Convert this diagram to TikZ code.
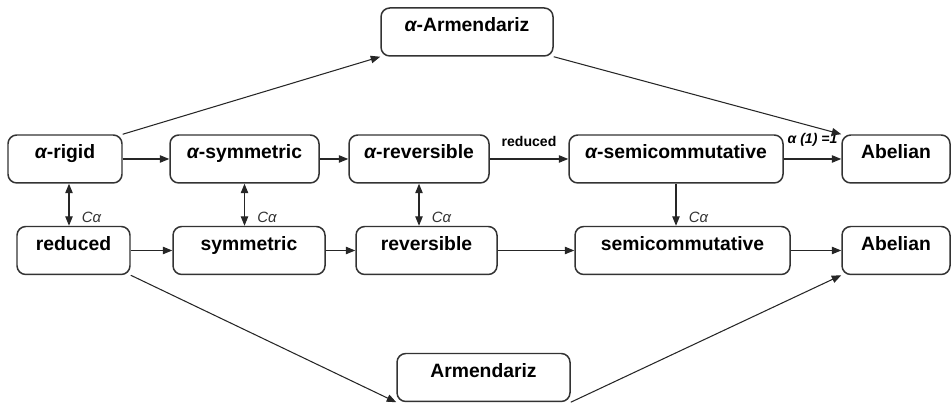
\documentclass[tikz,border=0pt]{standalone}
\usepackage{fontspec}
\setmainfont{Liberation Sans}
\usetikzlibrary{arrows.meta}
\tikzset{
	caja/.style={draw=black!80, line width=0.85pt, rounded corners=5pt, inner xsep=0pt, inner ysep=0pt, text height=0.48cm, text depth=0.48cm, font=\fontsize{11}{13}\selectfont\bfseries},
	ancho/.style={minimum width=#1*0.02cm},
	flecha/.style={draw=black!85, line width=0.6pt},
	etiq/.style={inner sep=1pt, font=\fontsize{8}{9}\selectfont\bfseries},
	ca/.style={inner sep=1pt, font=\fontsize{8.5}{10}\selectfont\itshape, text=black!80}
}
\begin{document}
\begin{tikzpicture}[x=0.02cm, y=-0.02cm, >={Triangle[length=1.9mm,width=1.5mm]}]
	% Marco
		\useasboundingbox (0,0) rectangle (952,404);
	
	% Cajas alfa
		\node[caja, ancho=172] (aarm) at (467,32) {{\itshape α}-Armendariz};
		\node[caja, ancho=114] (arig) at (65,159) {{\itshape α}-rigid};
		\node[caja, ancho=149] (asim) at (244.5,159) {{\itshape α}-symmetric};
		\node[caja, ancho=140] (arev) at (419,159) {{\itshape α}-reversible};
		\node[caja, ancho=214] (asemi) at (676,159) {{\itshape α}-semicommutative};
		\node[caja, ancho=108] (abel) at (896,159) {Abelian};
	
	% Cajas de abajo
		\node[caja, ancho=113] (red) at (73.5,250.5) {reduced};
		\node[caja, ancho=152] (sim) at (249,250.5) {symmetric};
		\node[caja, ancho=141] (rev) at (426.5,250.5) {reversible};
		\node[caja, ancho=215] (semi) at (682.5,250.5) {semicommutative};
		\node[caja, ancho=108] (bel) at (896,250.5) {Abelian};
		\node[caja, ancho=173] (arm) at (483.5,377.5) {Armendariz};
	
	% Flechas horizontales
		\draw[flecha, ->] (arig) -- (asim);
		\draw[flecha, ->] (asim) -- (arev);
		\draw[flecha, ->] (arev) -- node[etiq, above=6pt] {reduced} (asemi);
		\draw[flecha, ->] (asemi) -- node[etiq, above=6pt, font=\fontsize{8}{9}\selectfont\bfseries\itshape] {α (1) =1} (abel);
		\draw[flecha, ->] (red) -- (sim);
		\draw[flecha, ->] (sim) -- (rev);
		\draw[flecha, ->] (rev) -- (semi);
		\draw[flecha, ->] (semi) -- (bel);
	
	% Flechas verticales
		\draw[flecha, <->] ([xshift=0.08cm]arig.south) -- node[ca, pos=0.79, right=6pt] {Cα} ([xshift=0.08cm]arig.south |- red.north);
		\draw[flecha, <->] (asim.south) -- node[ca, pos=0.79, right=6pt] {Cα} (asim.south |- sim.north);
		\draw[flecha, <->] (arev.south) -- node[ca, pos=0.79, right=6pt] {Cα} (arev.south |- rev.north);
		\draw[flecha, ->] (asemi.south) -- node[ca, pos=0.79, right=6pt] {Cα} (asemi.south |- semi.north);
	
	% Flechas diagonales
		\draw[flecha, ->] (arig.north east) -- (aarm.south west);
		\draw[flecha, ->] (aarm.south east) -- (abel.north west);
		\draw[flecha, ->] (red.south east) -- (arm.south west);
		\draw[flecha, ->] (arm.south east) -- (bel.south west);
\end{tikzpicture}
\end{document}
